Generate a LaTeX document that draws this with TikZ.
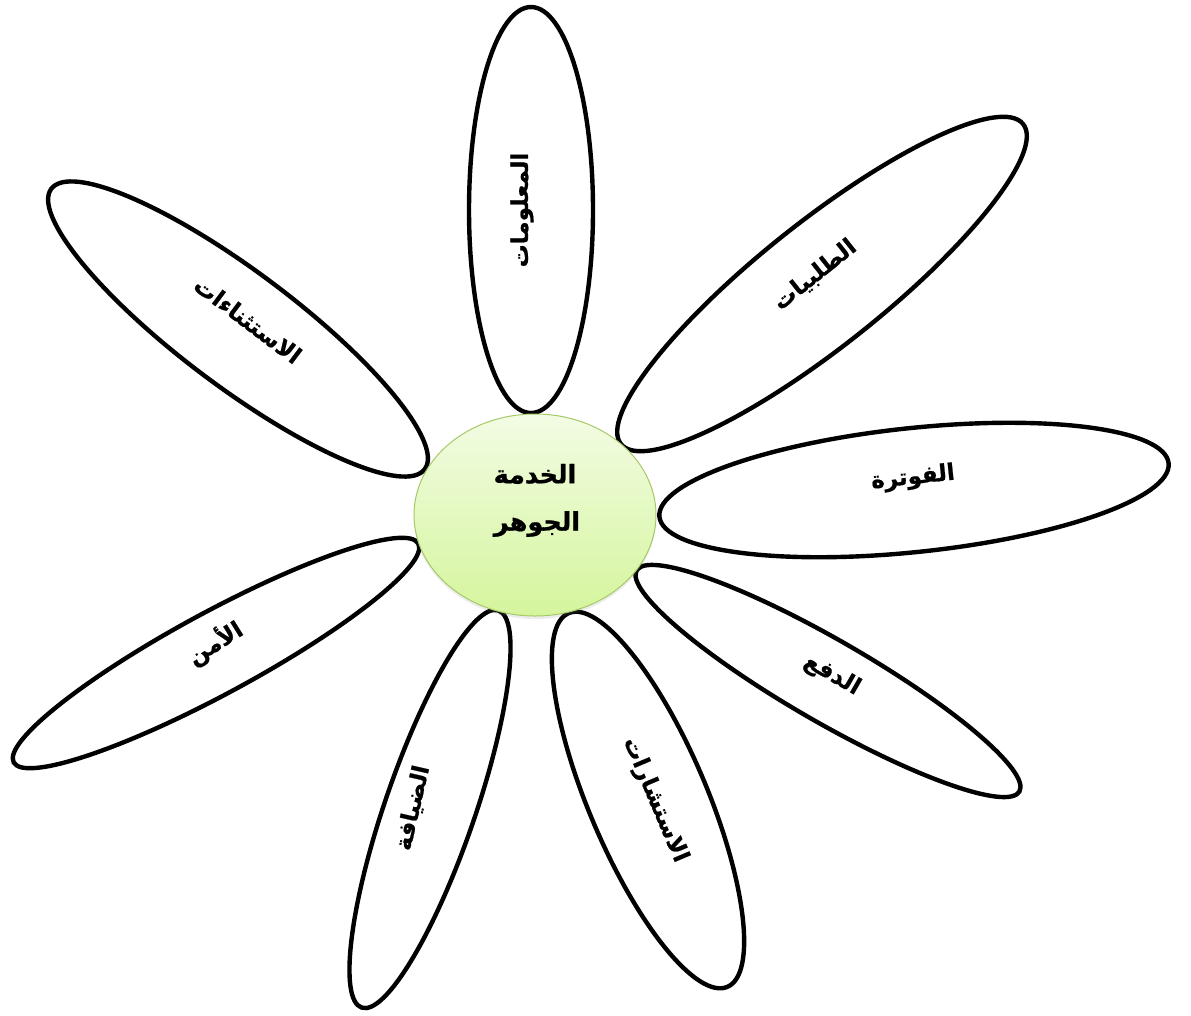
\documentclass[tikz,border=0pt]{standalone}
\usepackage{fontspec}
\usetikzlibrary{shapes.geometric,shadows}
\TeXXeTstate=1
\newfontfamily\arabicfont[Script=Arabic, BoldFeatures={FakeBold=0.8}]{DejaVu Sans}
\definecolor{hubtop}{HTML}{F2FCE4}
\definecolor{hubbot}{HTML}{D5F59C}
\definecolor{hubline}{HTML}{A6C968}
\tikzset{
  petal/.style={ellipse, draw=black, line width=4.4pt, fill=white, inner sep=0pt},
  hub/.style={ellipse, draw=hubline, line width=1pt, top color=hubtop, bottom color=hubbot, inner sep=0pt,
    minimum width=242, minimum height=202},
  lbl/.style={font=\arabicfont\bfseries\fontsize{23}{27}\selectfont, inner sep=0pt, text=black},
  corelbl/.style={lbl, font=\arabicfont\bfseries\fontsize{25.5}{30}\selectfont},
}
\begin{document}
\begin{tikzpicture}[x=1pt,y=-1pt]
\useasboundingbox (0,0) rectangle (1191,1015);
% petals
\node[petal, minimum width=406, minimum height=124, rotate=90]    (pinfo)  at (531,210) {};
\node[petal, minimum width=514, minimum height=124, rotate=38.5]  (porder) at (822,284) {};
\node[petal, minimum width=512, minimum height=124, rotate=6]     (pbill)  at (914,490) {};
\node[petal, minimum width=442, minimum height=82,  rotate=-30]   (ppay)   at (828,681) {};
\node[petal, minimum width=406, minimum height=118, rotate=-67]   (pcons)  at (648,800) {};
\node[petal, minimum width=420, minimum height=90,  rotate=71]    (phosp)  at (430,809) {};
\node[petal, minimum width=460, minimum height=82,  rotate=28.4]  (psec)   at (216,653) {};
\node[petal, minimum width=467, minimum height=115, rotate=-36.9] (pexc)   at (238,329) {};
% hub
\node[hub, drop shadow={opacity=0.15, shadow xshift=0pt, shadow yshift=-3pt}] (core) at (535,515) {};
% labels
\node[lbl, rotate=90]    (tinfo)  at (522,210) {\beginR المعلومات\endR};
\node[lbl, rotate=38.5]  (torder) at (815,275) {\beginR الطلبيات\endR};
\node[lbl, rotate=6]     (tbill)  at (913,478) {\beginR الفوترة\endR};
\node[lbl, rotate=-30]   (tpay)   at (832,675) {\beginR الدفع\endR};
\node[lbl, rotate=-67]   (tcons)  at (655,800) {\beginR الاستشارات\endR};
\node[lbl, rotate=77]    (thosp)  at (413,808) {\beginR الضيافة\endR};
\node[lbl, rotate=32]    (tsec)   at (215,643) {\beginR الأمن\endR};
\node[lbl, rotate=-37]   (texc)   at (248,320) {\beginR الاستثناءات\endR};
\node[corelbl] (tcore1) at (535,474) {\beginR الخدمة\endR};
\node[corelbl] (tcore2) at (537,524) {\beginR الجوهر\endR};
\end{tikzpicture}
\end{document}
